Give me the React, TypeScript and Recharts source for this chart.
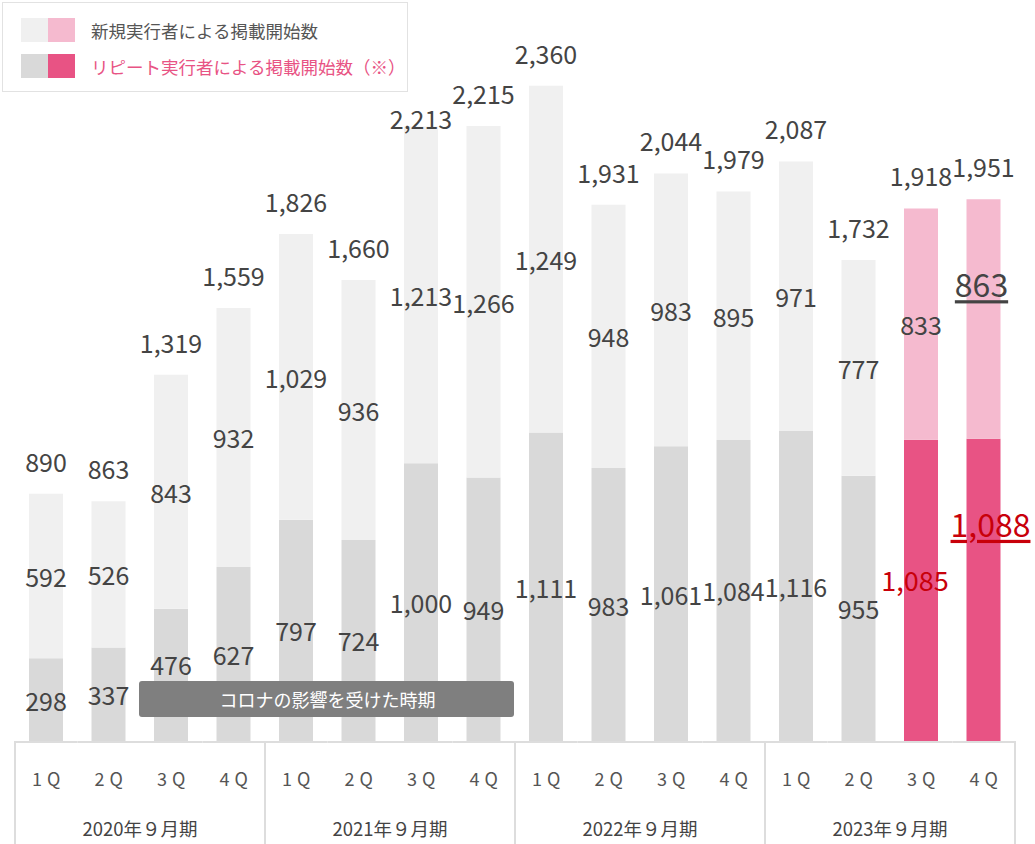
import { BarChart, Bar, XAxis, YAxis, Cell, LabelList, Legend, ReferenceArea } from 'recharts'

const years = ['2020年９月期', '2021年９月期', '2022年９月期', '2023年９月期']
const quarters = ['1Q', '2Q', '3Q', '4Q']
// リピート実行者 (bottom) / 新規実行者 (top)
const repeatCounts = [298, 337, 476, 627, 797, 724, 1000, 949, 1111, 983, 1061, 1084, 1116, 955, 1085, 1088]
const newCounts = [592, 526, 843, 932, 1029, 936, 1213, 1266, 1249, 948, 983, 895, 971, 777, 833, 863]
// quarters drawn in pink
const highlighted = [14, 15]
// quarters under the corona banner
const coronaFrom = 2
const coronaTo = 7

const data = repeatCounts.map((r, i) => ({
  key: `${years[Math.floor(i / 4)]}-${quarters[i % 4]}`,
  repeat: r,
  fresh: newCounts[i],
  total: r + newCounts[i],
}))

const FONT = '"Noto Sans CJK JP", "Noto Sans", sans-serif'
const TEXT = '#444444'
const RED = '#c8000a'
const LINE = '#dddddd'
const GRAY_TOP = '#f0f0f0'
const GRAY_BOTTOM = '#d9d9d9'
const PINK_TOP = '#f5bacf'
const PINK_BOTTOM = '#e85384'
const last = data.length - 1

function box(props: any) {
  const vb = props.viewBox ?? props
  return { x: Number(vb.x), y: Number(vb.y), w: Number(vb.width), h: Number(vb.height) }
}

const fmt = (v: any) => Number(v).toLocaleString('en-US')

function RepeatLabel(props: any) {
  const { x, y, w, h } = box(props)
  const i = props.index
  const cx = x + w / 2
  let cy = y + h / 2
  if (i >= coronaFrom && i <= coronaTo) cy = Math.min(cy, 664)
  if (i === last) {
    return (
      <text x={cx + 7} y={y + 84} textAnchor="middle" dominantBaseline="central" fontSize={32} fill={RED} textDecoration="underline" fontFamily={FONT}>
        {fmt(props.value)}
      </text>
    )
  }
  if (highlighted.includes(i)) {
    return (
      <text x={cx - 6} y={y + 140} textAnchor="middle" dominantBaseline="central" fontSize={27} fill={RED} fontFamily={FONT}>
        {fmt(props.value)}
      </text>
    )
  }
  return (
    <text x={cx} y={cy} textAnchor="middle" dominantBaseline="central" fontSize={25} fill={TEXT} fontFamily={FONT}>
      {fmt(props.value)}
    </text>
  )
}

function FreshLabel(props: any) {
  const { x, y, w, h } = box(props)
  const i = props.index
  const cx = x + w / 2
  if (i === last) {
    return (
      <text x={cx - 2} y={y + 84} textAnchor="middle" dominantBaseline="central" fontSize={32} fill={TEXT} textDecoration="underline" fontFamily={FONT}>
        {fmt(props.value)}
      </text>
    )
  }
  return (
    <text x={cx} y={y + h / 2} textAnchor="middle" dominantBaseline="central" fontSize={25} fill={TEXT} fontFamily={FONT}>
      {fmt(props.value)}
    </text>
  )
}

function TotalLabel(props: any) {
  const { x, y, w } = box(props)
  // 2021/3Q total sits low in the original, tucked against the bar top
  const lift = props.index === coronaTo - 1 ? 8 : 33
  return (
    <text x={x + w / 2} y={y - lift} textAnchor="middle" dominantBaseline="central" fontSize={25} fill={TEXT} fontFamily={FONT}>
      {fmt(props.value)}
    </text>
  )
}

function QuarterTick(props: any) {
  const { x, y, payload, index } = props
  const half = payload.offset || 31.25
  const q = quarters[index % 4]
  return (
    <g>
      <line x1={x - half} x2={x + half} y1={y + 1} y2={y + 1} stroke={LINE} strokeWidth={2} />
      {index % 4 === 0 && <line x1={x - half} x2={x - half} y1={y} y2={y + 110} stroke={LINE} strokeWidth={2} />}
      {index === last && <line x1={x + half} x2={x + half} y1={y} y2={y + 110} stroke={LINE} strokeWidth={2} />}
      <text x={x + 2.5} y={y + 37} textAnchor="middle" dominantBaseline="central" fontSize={18} letterSpacing={5} fill="#555" fontFamily={FONT}>
        {q}
      </text>
      {index % 4 === 1 && (
        <text x={x + half} y={y + 87} textAnchor="middle" dominantBaseline="central" fontSize={18.5} fill="#444" fontFamily={FONT}>
          {years[Math.floor(index / 4)]}
        </text>
      )}
    </g>
  )
}

function CoronaBanner(props: any) {
  const { x, y, width, height } = props
  return (
    <g>
      <rect x={x - 1} y={y} width={width} height={height} rx={3} fill="#7f7f7f" />
      <text x={x + width / 2} y={y + height / 2} textAnchor="middle" dominantBaseline="central" fontSize={18} fill="#fff" fontFamily={FONT}>
        コロナの影響を受けた時期
      </text>
    </g>
  )
}

function LegendBox() {
  const rows = [
    { label: '新規実行者による掲載開始数', colors: [GRAY_TOP, PINK_TOP], text: '#555' },
    { label: 'リピート実行者による掲載開始数（※）', colors: [GRAY_BOTTOM, PINK_BOTTOM], text: PINK_BOTTOM },
  ]
  return (
    <div style={{ width: 406, height: 90, border: '1px solid #e2e2e2', background: '#fff', boxSizing: 'border-box', padding: '15px 0 0 18px', fontFamily: FONT }}>
      {rows.map((r) => (
        <div key={r.label} style={{ display: 'flex', alignItems: 'center', height: 24, marginBottom: 12 }}>
          <span style={{ width: 27, height: 24, background: r.colors[0] }} />
          <span style={{ width: 27, height: 24, background: r.colors[1] }} />
          <span style={{ marginLeft: 16, fontSize: 17.5, color: r.text }}>{r.label}</span>
        </div>
      ))}
    </div>
  )
}

export default function App() {
  return (
    <div style={{ position: 'absolute', left: 0, top: 0, width: 1035, height: 844, background: '#fff' }}>
      <BarChart width={1035} height={844} data={data} margin={{ top: 19, right: 20, left: 15, bottom: 0 }}>
        <XAxis
          dataKey="key"
          height={103}
          interval={0}
          axisLine={false}
          tickLine={false}
          tickSize={0}
          tickMargin={0}
          tick={<QuarterTick />}
        />
        <YAxis hide domain={[0, 2600]} />
        <Legend
          layout="vertical"
          align="center"
          verticalAlign="middle"
          wrapperStyle={{ top: 2, left: 2, width: 406 }}
          content={() => <LegendBox />}
        />
        <Bar dataKey="repeat" stackId="a" barSize={34} isAnimationActive={false}>
          {data.map((_, i) => (
            <Cell key={i} fill={highlighted.includes(i) ? PINK_BOTTOM : GRAY_BOTTOM} />
          ))}
          <LabelList dataKey="repeat" content={<RepeatLabel />} />
        </Bar>
        <Bar dataKey="fresh" stackId="a" barSize={34} isAnimationActive={false}>
          {data.map((_, i) => (
            <Cell key={i} fill={highlighted.includes(i) ? PINK_TOP : GRAY_TOP} />
          ))}
          <LabelList dataKey="fresh" content={<FreshLabel />} />
          <LabelList dataKey="total" content={<TotalLabel />} />
        </Bar>
        <ReferenceArea
          x1={data[coronaFrom].key}
          x2={data[coronaTo].key}
          y1={86}
          y2={216}
          ifOverflow="visible"
          zIndex={1500}
          shape={<CoronaBanner />}
        />
      </BarChart>
    </div>
  )
}
